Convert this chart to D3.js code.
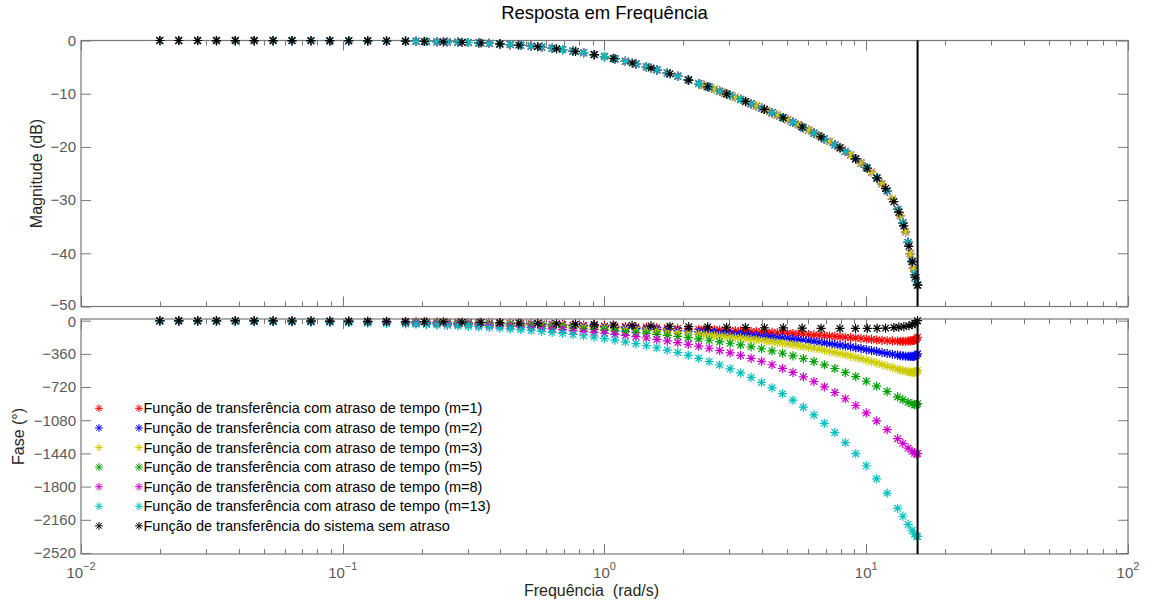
<!doctype html>
<html lang="pt-br">
<head>
    <meta charset="UTF-8">
    <title>Resposta em Frequência</title>
    <script src="https://d3js.org/d3.v7.min.js"></script>
    <style>
        body { margin: 0; background: #fff; }
        svg { display: block; font-family: "Liberation Sans", Arial, sans-serif; }
    </style>
</head>
<body>
<script>

// frequencias (rad/s) do sistema sem atraso
var freqSys = [0.02, 0.02362, 0.02789, 0.03293, 0.03888, 0.04591, 0.05421, 0.06401, 0.07559, 0.08925,
    0.1054, 0.1245, 0.147, 0.1735, 0.2049, 0.242, 0.2857, 0.3374, 0.3984, 0.4704,
    0.5555, 0.6559, 0.7745, 0.9145, 1.08, 1.275, 1.506, 1.778, 2.099, 2.479,
    2.927, 3.456, 4.081, 4.819, 5.69, 6.719, 7.934, 9.1, 10.09, 11.0,
    11.85, 12.75, 13.32, 13.92, 14.55, 14.99, 15.35, 15.7];

var magSys = [-0.002, -0.002, -0.003, -0.005, -0.007, -0.009, -0.013, -0.018, -0.025, -0.035,
    -0.048, -0.067, -0.093, -0.129, -0.179, -0.247, -0.341, -0.468, -0.640, -0.869,
    -1.170, -1.558, -2.047, -2.651, -3.376, -4.222, -5.189, -6.263, -7.435, -8.696,
    -10.04, -11.46, -12.95, -14.54, -16.26, -18.12, -20.16, -22.21, -24.01, -25.88,
    -27.84, -30.3, -32.27, -34.86, -38.69, -41.6, -44.5, -46.0];

var phaseSys = [-1.1, -1.4, -1.6, -1.9, -2.2, -2.6, -3.1, -3.7, -4.3, -5.1,
    -6.0, -7.1, -8.4, -9.8, -11.6, -13.6, -16.0, -18.6, -21.7, -25.2,
    -29.1, -33.3, -37.8, -42.5, -47.3, -52.0, -56.6, -60.9, -64.9, -68.4,
    -71.6, -74.5, -77.0, -79.2, -81.2, -82.9, -84.4, -84.5, -84, -83,
    -81, -75, -70, -64, -55, -44, -33, 0];

// frequencias das funcoes com atraso
var freqDelay = [0.02, 0.02362, 0.02789, 0.03293, 0.03888, 0.04591, 0.05421, 0.06401, 0.07559, 0.08925,
    0.1054, 0.1245, 0.147, 0.1738, 0.1905, 0.2089, 0.2291, 0.2512, 0.2754, 0.302,
    0.3311, 0.3631, 0.3981, 0.4365, 0.4786, 0.5248, 0.5754, 0.631, 0.6918, 0.7586,
    0.8318, 0.912, 1.0, 1.096, 1.202, 1.318, 1.445, 1.585, 1.738, 1.905,
    2.089, 2.291, 2.512, 2.754, 3.02, 3.311, 3.631, 3.981, 4.365, 4.786,
    5.248, 5.754, 6.31, 6.918, 7.586, 8.318, 9.12, 10.0, 10.96, 12.02,
    13.18, 13.8, 14.45, 14.96, 15.31, 15.56, 15.7];

var magDelay = [-0.002, -0.002, -0.003, -0.005, -0.007, -0.009, -0.013, -0.018, -0.025, -0.035,
    -0.048, -0.067, -0.093, -0.129, -0.155, -0.185, -0.222, -0.266, -0.317, -0.379,
    -0.452, -0.539, -0.639, -0.758, -0.897, -1.058, -1.244, -1.459, -1.703, -1.981,
    -2.292, -2.639, -3.025, -3.446, -3.907, -4.405, -4.938, -5.508, -6.109, -6.739,
    -7.399, -8.088, -8.800, -9.536, -10.30, -11.08, -11.89, -12.72, -13.58, -14.47,
    -15.40, -16.38, -17.41, -18.48, -19.62, -20.84, -22.25, -23.87, -25.79, -28.26,
    -31.76, -34.28, -37.96, -41.5, -44.0, -45.3, -46.0];

var phaseM1 = [-1.4, -1.6, -1.9, -2.3, -2.7, -3.2, -3.7, -4.4, -5.2, -6.1,
    -7.2, -8.5, -10.0, -11.9, -13.0, -14.2, -15.5, -17.0, -18.6, -20.3,
    -22.1, -24.1, -26.3, -28.6, -31.1, -33.7, -36.5, -39.5, -42.6, -45.9,
    -49.4, -52.9, -56.5, -60.3, -64.2, -68.1, -72.1, -76.1, -80.2, -84.4,
    -88.7, -93.1, -97.5, -102.1, -106.8, -111.7, -116.9, -122.2, -127.9, -134.0,
    -140.4, -147.2, -154.6, -162.4, -170.9, -179.8, -188.5, -198.6, -208.6, -217.7,
    -223.0, -224.1, -222.6, -216.4, -210.4, -198.3, -180];

var phaseM2 = [-1.6, -1.9, -2.2, -2.6, -3.1, -3.7, -4.3, -5.1, -6.1, -7.1,
    -8.4, -10.0, -11.7, -13.8, -15.2, -16.6, -18.2, -19.9, -21.7, -23.7,
    -25.9, -28.3, -30.8, -33.6, -36.6, -39.7, -43.1, -46.8, -50.6, -54.6,
    -58.9, -63.3, -68.0, -72.9, -77.9, -83.2, -88.6, -94.3, -100.2, -106.3,
    -112.6, -119.3, -126.3, -133.6, -141.4, -149.7, -158.5, -167.9, -177.9, -188.8,
    -200.5, -213.1, -226.9, -241.7, -257.9, -275.1, -293.0, -313.2, -334.2, -355.5,
    -374.1, -382.3, -388.2, -387.9, -385.9, -376.6, -360];

var phaseM3 = [-1.8, -2.2, -2.6, -3.0, -3.6, -4.2, -5.0, -5.9, -6.9, -8.2,
    -9.6, -11.4, -13.4, -15.8, -17.3, -19.0, -20.8, -22.7, -24.9, -27.2,
    -29.7, -32.5, -35.4, -38.6, -42.0, -45.8, -49.7, -54.0, -58.5, -63.3,
    -68.4, -73.8, -79.5, -85.4, -91.7, -98.3, -105.2, -112.5, -120.1, -128.1,
    -136.6, -145.6, -155.1, -165.2, -176.0, -187.6, -200.1, -213.5, -228.0, -243.6,
    -260.6, -279.1, -299.2, -321.0, -344.8, -370.5, -397.5, -427.8, -459.8, -493.2,
    -525.1, -540.4, -553.8, -559.3, -561.3, -554.9, -540];

var phaseM5 = [-2.3, -2.7, -3.2, -3.8, -4.5, -5.3, -6.2, -7.3, -8.7, -10.2,
    -12.1, -14.2, -16.8, -19.8, -21.7, -23.8, -26.0, -28.5, -31.2, -34.1,
    -37.3, -40.8, -44.5, -48.6, -53.0, -57.8, -62.9, -68.4, -74.4, -80.7,
    -87.5, -94.7, -102.4, -110.5, -119.3, -128.5, -138.3, -148.8, -159.9, -171.7,
    -184.4, -198.1, -212.6, -228.3, -245.2, -263.5, -283.3, -304.7, -328.0, -353.3,
    -380.9, -411.0, -443.8, -479.5, -518.7, -561.1, -606.6, -657.0, -711.0, -768.7,
    -827.2, -856.7, -885.0, -902.2, -912.2, -911.6, -900];

var phaseM8 = [-3.0, -3.5, -4.2, -4.9, -5.8, -6.8, -8.1, -9.5, -11.2, -13.3,
    -15.7, -18.5, -21.8, -25.8, -28.3, -31.0, -33.9, -37.1, -40.6, -44.5,
    -48.7, -53.3, -58.2, -63.6, -69.5, -75.8, -82.7, -90.1, -98.1, -106.8,
    -116.1, -126.0, -136.8, -148.2, -160.6, -173.8, -188.0, -203.3, -219.7, -237.2,
    -256.3, -276.8, -299.0, -323.0, -349.1, -377.3, -408.1, -441.6, -478.1, -517.9,
    -561.3, -608.8, -660.7, -717.4, -779.4, -847.0, -920.1, -1000.7, -1087.7, -1181.9,
    -1280.2, -1331.1, -1381.7, -1416.4, -1438.5, -1446.5, -1440];

var phaseM13 = [-4.1, -4.9, -5.8, -6.8, -8.0, -9.5, -11.2, -13.2, -15.6, -18.4,
    -21.7, -25.7, -30.3, -35.8, -39.2, -42.9, -47.0, -51.5, -56.4, -61.8,
    -67.6, -74.1, -81.0, -88.6, -96.9, -105.9, -115.7, -126.3, -137.8, -150.3,
    -163.7, -178.3, -194.1, -211.0, -229.4, -249.3, -270.8, -294.1, -319.2, -346.4,
    -375.9, -408.1, -442.9, -480.8, -522.1, -567.0, -616.2, -669.7, -728.2, -792.1,
    -862.0, -938.4, -1022.3, -1113.7, -1214.1, -1323.6, -1442.6, -1573.7, -1715.7, -1870.6,
    -2035.4, -2121.8, -2209.7, -2273.6, -2315.7, -2338.0, -2340];

// pontos extras (grade mais densa) para m=1, 2 e 3
var freqExtra = [2.399, 2.63, 2.884, 3.162, 3.467, 3.802, 4.169, 4.571, 5.012, 5.495,
    6.026, 6.607, 7.244, 7.943, 8.71, 9.55, 10.47, 11.48, 12.59, 13.49,
    14.13, 14.72, 15.14];
var magExtra = [-8.441, -9.164, -9.913, -10.684, -11.478, -12.297, -13.141, -14.013, -14.916, -15.855,
    -16.842, -17.882, -18.993, -20.196, -21.525, -23.026, -24.782, -26.946, -29.839, -32.939,
    -35.967, -40.08, -42.8];
var phaseM1Extra = [-95.3, -99.8, -104.4, -109.2, -114.3, -119.5, -125.1, -130.9, -137.1, -143.7,
    -150.8, -158.4, -166.6, -175.4, -184.1, -193.4, -204.0, -213.6, -220.3, -223.6,
    -223.9, -219.7, -214.5];
var phaseM2Extra = [-122.7, -129.9, -137.5, -145.5, -154.0, -163.1, -172.8, -183.3, -194.5, -206.7,
    -219.8, -234.1, -249.6, -266.4, -283.9, -302.9, -324.0, -345.1, -364.5, -378.2,
    -385.8, -388.4, -388.0];
var phaseM3Extra = [-150.2, -160.0, -170.5, -181.7, -193.7, -206.7, -220.6, -235.7, -252.0, -269.6,
    -288.9, -309.8, -332.6, -357.5, -383.7, -412.3, -443.9, -476.7, -508.8, -532.8,
    -547.8, -557.0, -561.5];

var legendLabels = [
    'Função de transferência com atraso de tempo (m=1)',
    'Função de transferência com atraso de tempo (m=2)',
    'Função de transferência com atraso de tempo (m=3)',
    'Função de transferência com atraso de tempo (m=5)',
    'Função de transferência com atraso de tempo (m=8)',
    'Função de transferência com atraso de tempo (m=13)',
    'Função de transferência do sistema sem atraso'
];

var magTicks = [0, -10, -20, -30, -40, -50];
var phaseTicks = [0, -360, -720, -1080, -1440, -1800, -2160, -2520];
var freqTicks = [0.01, 0.1, 1, 10, 100];
var freqTickExp = ['\u22122', '\u22121', '0', '1', '2'];
var nyquist = 15.708; // linha vertical (pi/T)

var colors = ['#ff0000', '#0000ff', '#cccc00', '#00a000', '#cc00cc', '#00bfbf', '#000000'];

var width = 1156, height = 607;
var left = 81, right = 1128;
var magTop = 40.5, magBottom = 306.5;
var phTop = 319, phBottom = 554;
var axisColor = '#777';
var labelColor = '#5a5a5a';

var svg = d3.select('body').append('svg')
    .attr('width', width)
    .attr('height', height);

var x = d3.scaleLog().domain([0.01, 100]).range([left, right]);
var yMag = d3.scaleLinear().domain([-50, 0]).range([magBottom, magTop]);
var yPh = d3.scaleLinear().domain([-2531, 18]).range([phBottom, phTop]);

// asterisco do matlab
function star(r) {
    var a = r * 0.72;
    return 'M' + (-r) + ',0H' + r + 'M0,' + (-r) + 'V' + r +
        'M' + (-a) + ',' + (-a) + 'L' + a + ',' + a +
        'M' + (-a) + ',' + a + 'L' + a + ',' + (-a);
}

function drawFrame(y, top, bottom, ticks) {
    var g = svg.append('g');
    g.append('rect')
        .attr('x', left).attr('y', top)
        .attr('width', right - left).attr('height', bottom - top)
        .attr('fill', '#fff');

    var yl = g.append('g').attr('transform', 'translate(' + left + ',0)')
        .call(d3.axisLeft(y).tickValues(ticks).tickSize(-10).tickPadding(5).tickFormat(d3.format('d')));
    var yr = g.append('g').attr('transform', 'translate(' + right + ',0)')
        .call(d3.axisRight(y).tickValues(ticks).tickSize(-10).tickFormat(''));
    [yl, yr].forEach(function(a) {
        a.select('.domain').remove();
        a.selectAll('line').attr('stroke', axisColor);
        a.selectAll('text').attr('fill', labelColor).style('font-size', '15px')
            .style('font-family', '"Liberation Sans", Arial, sans-serif');
    });

    // ticks de x (maiores e menores) em cima e em baixo
    x.ticks().forEach(function(v) {
        var major = Math.abs(Math.log10(v) - Math.round(Math.log10(v))) < 1e-9;
        var len = major ? 10 : 5;
        var xx = Math.round(x(v)) + 0.5;
        g.append('line').attr('x1', xx).attr('x2', xx).attr('y1', bottom).attr('y2', bottom - len)
            .attr('stroke', axisColor);
        g.append('line').attr('x1', xx).attr('x2', xx).attr('y1', top).attr('y2', top + len)
            .attr('stroke', axisColor);
    });

    g.append('rect')
        .attr('x', left).attr('y', top)
        .attr('width', right - left).attr('height', bottom - top)
        .attr('fill', 'none').attr('stroke', axisColor).attr('stroke-width', 1.2);
    return g;
}

var magFrame = drawFrame(yMag, magTop, magBottom, magTicks);
var phFrame = drawFrame(yPh, phTop, phBottom, phaseTicks);
// afasta um pouco os rotulos -50 e 0 que ficam colados
magFrame.selectAll('.tick text').filter(function(d) { return d === -50; }).attr('dy', '0.22em');
phFrame.selectAll('.tick text').filter(function(d) { return d === 0; }).attr('dy', '0.42em');

var delayed = [phaseM1, phaseM2, phaseM3, phaseM5, phaseM8, phaseM13];
var extras = [phaseM1Extra, phaseM2Extra, phaseM3Extra];

function plotStars(freqs, vals, y, color) {
    svg.append('g')
        .selectAll('path')
        .data(freqs)
        .enter().append('path')
        .attr('d', star(4.6))
        .attr('transform', function(d, i) { return 'translate(' + x(d) + ',' + y(vals[i]) + ')'; })
        .attr('fill', 'none')
        .attr('stroke', color)
        .attr('stroke-width', 1.2);
}

delayed.forEach(function(ph, k) {
    plotStars(freqDelay, magDelay, yMag, colors[k]);
    if (k < 3) plotStars(freqExtra, magExtra, yMag, colors[k]);
});
plotStars(freqSys, magSys, yMag, colors[6]);

delayed.forEach(function(ph, k) {
    plotStars(freqDelay, ph, yPh, colors[k]);
    if (k < 3) plotStars(freqExtra, extras[k], yPh, colors[k]);
});
plotStars(freqSys, phaseSys, yPh, colors[6]);

// frequencia de Nyquist
[[magTop, magBottom], [phTop, phBottom]].forEach(function(p) {
    svg.append('line')
        .attr('x1', x(nyquist)).attr('x2', x(nyquist))
        .attr('y1', p[0]).attr('y2', p[1])
        .attr('stroke', '#000').attr('stroke-width', 2);
});

// rotulos do eixo x
var xl = svg.append('g');
freqTicks.forEach(function(v, i) {
    var t = xl.append('text')
        .attr('x', x(v)).attr('y', 578)
        .attr('text-anchor', 'middle')
        .attr('fill', labelColor)
        .style('font-size', '15px');
    t.append('tspan').text('10');
    t.append('tspan').attr('dy', -8).style('font-size', '11px').text(freqTickExp[i]);
});

// titulo e rotulos
svg.append('text')
    .attr('x', (left + right) / 2).attr('y', 18.5)
    .attr('text-anchor', 'middle')
    .style('font-size', '18.5px')
    .attr('fill', '#000')
    .text('Resposta em Frequência');

svg.append('text')
    .attr('x', 591.5).attr('y', 596)
    .attr('text-anchor', 'middle')
    .style('font-size', '16px')
    .style('white-space', 'pre')
    .attr('fill', '#262626')
    .text('Frequência  (rad/s)');

svg.append('text')
    .attr('transform', 'translate(42,' + ((magTop + magBottom) / 2) + ') rotate(-90)')
    .attr('text-anchor', 'middle')
    .style('font-size', '16px')
    .attr('fill', '#262626')
    .text('Magnitude (dB)');

svg.append('text')
    .attr('transform', 'translate(24,' + ((phTop + phBottom) / 2) + ') rotate(-90)')
    .attr('text-anchor', 'middle')
    .style('font-size', '16px')
    .attr('fill', '#262626')
    .text('Fase (°)');

// legenda
var leg = svg.append('g');
legendLabels.forEach(function(name, i) {
    var yy = 408.3 + i * 19.6;
    leg.append('path').attr('d', star(3.9))
        .attr('transform', 'translate(99,' + yy + ')')
        .attr('fill', 'none').attr('stroke', colors[i]).attr('stroke-width', 1);
    leg.append('path').attr('d', star(3.9))
        .attr('transform', 'translate(139,' + yy + ')')
        .attr('fill', 'none').attr('stroke', colors[i]).attr('stroke-width', 1);
    leg.append('text')
        .attr('x', 143.5).attr('y', yy + 5)
        .style('font-size', '14.5px')
        .attr('fill', '#000')
        .text(name);
});

</script>
</body>
</html>
